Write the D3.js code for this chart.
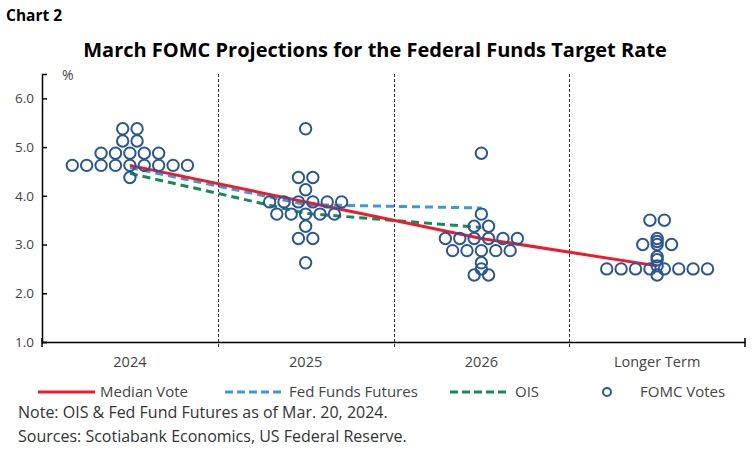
<!DOCTYPE html>
<html>
<head>
<meta charset="utf-8">
<script src="https://cdn.jsdelivr.net/npm/d3@7"></script>
<style>
    body { margin: 0; background: #fff; }
    text { font-family: "Open Sans", "Noto Sans", sans-serif; }
</style>
</head>
<body>
<div id="chart"></div>
<script>
// whole svg
const SVG_WIDTH = 752;
const SVG_HEIGHT = 457;
const PLOT = { left: 42, right: 745, top: 74, bottom: 342 };
const DOT_R = 5.7;
const DOT_STEP = 14.4;

// data
const periods = ['2024', '2025', '2026', 'Longer Term'];
const yTicks = [1, 2, 3, 4, 5, 6];

// FOMC participants' dots, one entry per vote
const votes2024 = [5.375, 5.375, 5.125, 5.125,
    4.875, 4.875, 4.875, 4.875, 4.875,
    4.625, 4.625, 4.625, 4.625, 4.625, 4.625, 4.625, 4.625, 4.625,
    4.375];
const votes2025 = [5.375, 4.375, 4.375, 4.125,
    3.875, 3.875, 3.875, 3.875, 3.875, 3.875,
    3.625, 3.625, 3.625, 3.625, 3.625,
    3.375, 3.125, 3.125, 2.625];
const votes2026 = [4.875, 3.625, 3.375, 3.375,
    3.125, 3.125, 3.125, 3.125, 3.125, 3.125,
    2.875, 2.875, 2.875, 2.875, 2.875,
    2.625, 2.5, 2.375, 2.375];
const votesLonger = [3.5, 3.5, 3.125, 3.0625, 3.0, 3.0, 3.0,
    2.75, 2.6875, 2.5625,
    2.5, 2.5, 2.5, 2.5, 2.5, 2.5, 2.5, 2.5,
    2.375];
const allVotes = [votes2024, votes2025, votes2026, votesLonger];

// lines
const medianVote = [4.625, 3.875, 3.125, 2.5625];
const fedFundsFutures = [4.58, 3.82, 3.75];
const ois = [4.46, 3.64, 3.35];

const svg = d3.select('#chart')
    .append('svg')
    .attr('width', SVG_WIDTH)
    .attr('height', SVG_HEIGHT)
;

const x = d3.scaleBand()
    .domain(periods)
    .range([PLOT.left, PLOT.right])
;
const y = d3.scaleLinear()
    .domain([1, 6.5])
    .range([PLOT.bottom, PLOT.top])
;
const cx = (p) => x(p) + x.bandwidth() / 2;

// titles
svg.append('text')
    .text('Chart 2')
    .attr('x', 6)
    .attr('y', 21)
    .attr('font-size', 15.5)
    .attr('font-weight', 700)
    .attr('fill', '#000')
;
svg.append('text')
    .text('March FOMC Projections for the Federal Funds Target Rate')
    .attr('x', 375)
    .attr('y', 57)
    .attr('text-anchor', 'middle')
    .attr('font-size', 20)
    .attr('font-weight', 700)
    .attr('fill', '#000')
;

// dividers between periods
const divider_g = svg.append('g')
    .attr('stroke', '#333')
    .attr('stroke-width', 1)
    .attr('stroke-dasharray', '3,2')
;
periods.slice(1).forEach(p => {
    divider_g.append('line')
        .attr('x1', Math.round(x(p)) + 0.5)
        .attr('x2', Math.round(x(p)) + 0.5)
        .attr('y1', PLOT.top)
        .attr('y2', PLOT.bottom + 7)
    ;
});

// y axis
const yAxis = svg.append('g')
    .attr('transform', `translate(${PLOT.left},0)`)
    .call(d3.axisLeft(y).tickValues(yTicks).tickFormat(d3.format('.1f')).tickSize(-5).tickPadding(8))
;
yAxis.select('.domain').attr('stroke', '#000').attr('stroke-width', 1.5);
yAxis.selectAll('.tick line').attr('stroke', '#000').attr('stroke-width', 1.5);
yAxis.selectAll('.tick text')
    .attr('font-size', 13.5)
    .attr('fill', '#444')
    .style('font-family', '"Open Sans", sans-serif')
;
svg.append('text')
    .text('%')
    .attr('x', 62)
    .attr('y', 80)
    .attr('font-size', 14)
    .attr('fill', '#444')
;

// x axis
const xAxis = svg.append('g')
    .attr('transform', `translate(0,${PLOT.bottom})`)
    .call(d3.axisBottom(x).tickSize(0).tickPadding(15))
;
xAxis.select('.domain').attr('stroke', '#000').attr('stroke-width', 1.5);
xAxis.selectAll('.tick text')
    .attr('font-size', 14.5)
    .attr('fill', '#444')
    .style('font-family', '"Open Sans", sans-serif')
;
[PLOT.left, PLOT.right].forEach(px => {
    svg.append('line')
        .attr('x1', px).attr('x2', px)
        .attr('y1', PLOT.bottom - 4).attr('y2', PLOT.bottom + 5)
        .attr('stroke', '#000').attr('stroke-width', 1.5)
    ;
});

// lines
const line = d3.line()
    .x(d => cx(d.p))
    .y(d => y(d.v))
;
const toPts = (vals) => vals.map((v, i) => ({ p: periods[i], v: v }));

svg.append('path')
    .datum(toPts(ois))
    .attr('d', line)
    .attr('fill', 'none')
    .attr('stroke', '#148A57')
    .attr('stroke-width', 3)
    .attr('stroke-dasharray', '8,5')
;
svg.append('path')
    .datum(toPts(fedFundsFutures))
    .attr('d', line)
    .attr('fill', 'none')
    .attr('stroke', '#3C9AD6')
    .attr('stroke-width', 3)
    .attr('stroke-dasharray', '8,5')
;
svg.append('path')
    .datum(toPts(medianVote))
    .attr('d', line)
    .attr('fill', 'none')
    .attr('stroke', '#EC1C2E')
    .attr('stroke-width', 3)
;

// dots: rows of equal value, centred on the period
const dot_g = svg.append('g')
    .attr('fill', 'none')
    .attr('stroke', '#2B5694')
    .attr('stroke-width', 2)
;
allVotes.forEach((votes, i) => {
    const rows = d3.rollups(votes, v => v.length, d => d);
    rows.forEach(([val, n]) => {
        for (let k = 0; k < n; k++) {
            dot_g.append('circle')
                .attr('cx', cx(periods[i]) + (k - (n - 1) / 2) * DOT_STEP)
                .attr('cy', y(val))
                .attr('r', DOT_R)
            ;
        }
    });
});

// legend
const legend_g = svg.append('g')
    .attr('font-size', 15)
    .attr('fill', '#444')
;
const LEG_Y = 392;
legend_g.append('line')
    .attr('x1', 38).attr('x2', 95).attr('y1', LEG_Y).attr('y2', LEG_Y)
    .attr('stroke', '#EC1C2E').attr('stroke-width', 3)
;
legend_g.append('text').text('Median Vote').attr('x', 100).attr('y', LEG_Y + 5);
legend_g.append('line')
    .attr('x1', 225).attr('x2', 283).attr('y1', LEG_Y).attr('y2', LEG_Y)
    .attr('stroke', '#3C9AD6').attr('stroke-width', 3).attr('stroke-dasharray', '8,4')
;
legend_g.append('text').text('Fed Funds Futures').attr('x', 289).attr('y', LEG_Y + 5);
legend_g.append('line')
    .attr('x1', 450).attr('x2', 510).attr('y1', LEG_Y).attr('y2', LEG_Y)
    .attr('stroke', '#148A57').attr('stroke-width', 3).attr('stroke-dasharray', '8,4')
;
legend_g.append('text').text('OIS').attr('x', 515).attr('y', LEG_Y + 5);
legend_g.append('circle')
    .attr('cx', 607).attr('cy', LEG_Y).attr('r', 4)
    .attr('fill', 'none').attr('stroke', '#2B5694').attr('stroke-width', 2)
;
legend_g.append('text').text('FOMC Votes').attr('x', 640).attr('y', LEG_Y + 5);

// notes
svg.append('text')
    .text('Note: OIS & Fed Fund Futures as of Mar. 20, 2024.')
    .attr('x', 18).attr('y', 418)
    .attr('font-size', 16).attr('fill', '#333')
;
svg.append('text')
    .text('Sources: Scotiabank Economics, US Federal Reserve.')
    .attr('x', 18).attr('y', 442)
    .attr('font-size', 16).attr('fill', '#333')
;
</script>
</body>
</html>
